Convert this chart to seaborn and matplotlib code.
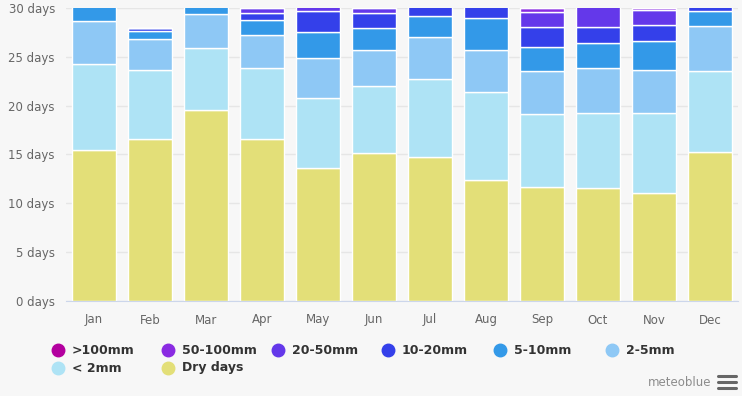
import pandas as pd
import seaborn as sns
import matplotlib.pyplot as plt
from matplotlib.lines import Line2D

# monthly days per precipitation class
months = ["Jan", "Feb", "Mar", "Apr", "May", "Jun", "Jul", "Aug", "Sep", "Oct", "Nov", "Dec"]
dry = [15.5, 16.6, 19.6, 16.6, 13.6, 15.2, 14.7, 12.4, 11.7, 11.6, 11.1, 15.3]
lt2 = [8.8, 7.05, 6.3, 7.3, 7.2, 6.85, 8.0, 9.0, 7.4, 7.7, 8.1, 8.2]
mm2_5 = [4.4, 3.15, 3.45, 3.35, 4.1, 3.65, 4.35, 4.25, 4.5, 4.55, 4.5, 4.65]
mm5_10 = [1.9, 0.87, 1.3, 1.5, 2.6, 2.25, 2.1, 3.3, 2.4, 2.55, 2.95, 1.55]
mm10_20 = [0.3, 0.25, 0.3, 0.75, 2.2, 1.55, 1.5, 1.6, 2.1, 1.7, 1.65, 1.0]
mm20_50 = [0.1, 0.08, 0.05, 0.5, 1.0, 0.55, 0.3, 0.4, 1.5, 2.2, 1.45, 0.3]
mm50_100 = [0.0, 0.0, 0.0, 0.25, 0.25, 0.2, 0.05, 0.05, 0.35, 0.6, 0.3, 0.0]
gt100 = [0.0, 0.0, 0.0, 0.0, 0.05, 0.0, 0.0, 0.0, 0.2, 0.1, 0.2, 0.0]

classes = [">100mm", "50-100mm", "20-50mm", "10-20mm", "5-10mm", "2-5mm", "< 2mm", "Dry days"]
series = [gt100, mm50_100, mm20_50, mm10_20, mm5_10, mm2_5, lt2, dry]
colors = ["#b3009f", "#8a2be2", "#6438ea", "#3440ea", "#3399e8", "#8ec8f5", "#aee3f5", "#e3df78"]

rows = []
for c, vals in zip(classes, series):
    for m, v in zip(months, vals):
        rows.append({"month": m, "cls": c, "days": v})
df = pd.DataFrame(rows)
df["month"] = pd.Categorical(df["month"], categories=months, ordered=True)

sns.set_style("white")
bg = "#f7f7f7"
fig = plt.figure(figsize=(7.42, 3.96), dpi=100, facecolor=bg)
ax = fig.add_axes([66 / 742, 95 / 396, 672 / 742, 293 / 396])
ax.set_facecolor(bg)

sns.histplot(data=df, x="month", weights="days", hue="cls", hue_order=classes,
             palette=dict(zip(classes, colors)), multiple="stack", discrete=True,
             shrink=0.79, edgecolor="white", linewidth=1, alpha=1, legend=False, ax=ax)

ax.set_xlim(-0.5, 11.5)
ax.set_ylim(0, 30)
ax.set_yticks(range(0, 31, 5))
ax.set_yticklabels([f"{v} days" for v in range(0, 31, 5)])
ax.set_xticks(range(12))
ax.set_xticklabels(months)
ax.set_xlabel("")
ax.set_ylabel("")
ax.yaxis.grid(True, color="#e6e6e6", linewidth=1)
ax.set_axisbelow(True)
for s in ["top", "right", "left"]:
    ax.spines[s].set_visible(False)
ax.spines["bottom"].set_color("#ccd6eb")
ax.tick_params(axis="both", length=0, labelsize=8.5, labelcolor="#666666")
ax.tick_params(axis="x", pad=9)
ax.tick_params(axis="y", pad=8)

# legend, two rows in reading order
leg_x = [58, 168, 278, 388, 500, 612]
for i, (c, col) in enumerate(zip(classes, colors)):
    r, k = divmod(i, 6)
    x = leg_x[k] / 742
    y = 1 - (350 + r * 18) / 396
    fig.add_artist(Line2D([x], [y], marker="o", markersize=9, color=col,
                          linestyle="none", transform=fig.transFigure))
    fig.text(x + 14 / 742, y, c, fontsize=9, fontweight="bold", color="#333333",
             va="center", ha="left")

fig.text(711 / 742, 1 - 382 / 396, "meteoblue", fontsize=8.5, color="#8c8c8c",
         ha="right", va="center")
for dy in [376, 382, 388]:
    fig.add_artist(Line2D([718 / 742, 736 / 742], [1 - dy / 396, 1 - dy / 396],
                          color="#666666", linewidth=2.2, transform=fig.transFigure))

fig.savefig("out.png", dpi=100, facecolor=bg)
